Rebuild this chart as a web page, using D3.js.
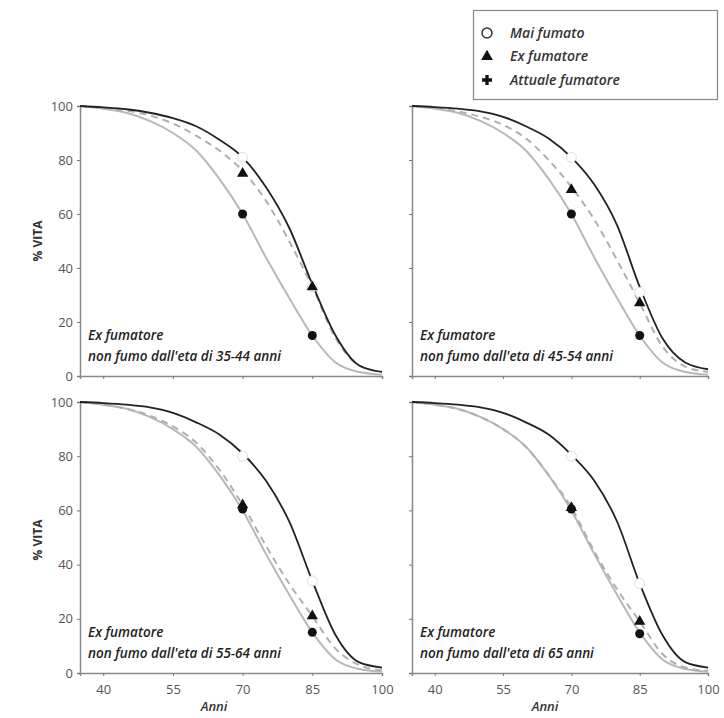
<!DOCTYPE html>
<html><head><meta charset="utf-8">
<script src="https://cdn.jsdelivr.net/npm/d3@7"></script>
<style>body{margin:0;background:#fff}svg{display:block}</style>
</head><body>
<script>
// ---- DATA ----
const ages = [35,40,45,50,55,60,65,70,75,80,85,90,95,100];
const xTicks = [40,55,70,85,100];
const yTicks = [0,20,40,60,80,100];
const markerAges = [70,85];
const panelTitles = ["non fumo dall'eta di 35-44 anni","non fumo dall'eta di 45-54 anni","non fumo dall'eta di 55-64 anni","non fumo dall'eta di 65 anni"];
const seriesNames = ["Mai fumato","Ex  fumatore","Attuale fumatore"];

const never1 = [100,99.5,98.8,97.5,95.5,92.5,87.5,81,70,55,34,15,4,1.5];
const ex1    = [100,99.3,98.3,96.5,93.5,89,83.5,76,65,50,33,14,4,1.5];
const curr1  = [100,99,97.5,94.5,90,83.5,73,60,44,29,15,5,1.5,0.5];
const never2 = [100,99.6,99,98,96,92.5,88,81,71,56,33,14,5,2.5];
const ex2    = [100,99.3,98,96,93,88,80,70,58,43,27,11,3.5,1.5];
const curr2  = [100,99,97.5,94.5,90,83.5,73,60,44,29,15,5,1.5,0.5];
const never3 = [100,99.6,99,98,96,92.5,88,81,71,56,34,14,4,2];
const ex3    = [100,99,97.5,95,91,85,75,62,47,33,21,9,3,1];
const curr3  = [100,99,97.5,94.5,90,83.5,73,60,44,29,15,5,1.5,0.5];
const never4 = [100,99.6,99,98,96,92.5,88,80.5,71,56,33,14,4,2];
const ex4    = [100,99,97.5,94.5,90,83.5,73,61,45,31,19,7,2,0.8];
const curr4  = [100,99,97.5,94.5,90,83.5,73,60,44,29,15,5,1.5,0.5];

// marker values at ages 70 and 85
const neverMk = [[81,33],[81,31],[80,34],[80,33]];
const exMk    = [[75,33],[69,27],[62,21],[61,19]];
const currMk  = [[60,15],[60,15],[60.5,15],[60.5,14.5]];

const neverS=[never1,never2,never3,never4], exS=[ex1,ex2,ex3,ex4], currS=[curr1,curr2,curr3,curr4];

// ---- LAYOUT ----
const W=724,H=718;
const svg=d3.select("body").append("svg").attr("width",W).attr("height",H);
const cols=[[80,382],[412,708]];
const rows=[[106,376],[402,673]];
const font="'Open Sans', 'Noto Sans', sans-serif";

for(let p=0;p<4;p++){
  const c=cols[p%2], r=rows[Math.floor(p/2)];
  const x=d3.scaleLinear().domain([35,100]).range(c);
  const y=d3.scaleLinear().domain([0,100]).range([r[1],r[0]]);
  const g=svg.append("g");
  const ya=d3.axisLeft(y).tickValues(yTicks).tickSize(3).tickPadding(4);
  if(p%2===1) ya.tickFormat("");
  const yg=g.append("g").attr("transform",`translate(${c[0]},0)`).call(ya);
  const xa=d3.axisBottom(x).tickValues(xTicks).tickSize(3).tickPadding(9);
  if(p<2) xa.tickFormat("");
  const xg=g.append("g").attr("transform",`translate(0,${r[1]})`).call(xa);
  [yg,xg].forEach(a=>{
    a.select(".domain").attr("stroke","#888").attr("stroke-width",1.5);
    a.selectAll(".tick line").attr("stroke","#777");
    a.selectAll("text").attr("fill","#555").style("font-family",font).style("font-size","13px");
  });
  const line=d3.line().x((d,i)=>x(ages[i])).y(d=>y(d)).curve(d3.curveMonotoneX);
  g.append("path").attr("d",line(currS[p])).attr("fill","none").attr("stroke","#b8b8b8").attr("stroke-width",2);
  g.append("path").attr("d",line(exS[p])).attr("fill","none").attr("stroke","#b0b0b0").attr("stroke-width",2).attr("stroke-dasharray","7,5");
  g.append("path").attr("d",line(neverS[p])).attr("fill","none").attr("stroke","#222").attr("stroke-width",1.8);
  markerAges.forEach((a,i)=>{
    g.append("circle").attr("cx",x(a)).attr("cy",y(neverMk[p][i])).attr("r",5).attr("fill","#fff").attr("stroke","#ddd").attr("stroke-width",1);
    g.append("path").attr("d",d3.symbol(d3.symbolTriangle,55)()).attr("transform",`translate(${x(a)},${y(exMk[p][i])})`).attr("fill","#111");
    g.append("circle").attr("cx",x(a)).attr("cy",y(currMk[p][i])).attr("r",4.5).attr("fill","#111");
  });
  const t=g.append("text").attr("x",c[0]+8).attr("y",r[1]-36).attr("fill","#222")
    .style("font-family",font).style("font-size","13.5px").style("font-style","italic").style("font-weight","600");
  t.append("tspan").text("Ex fumatore");
  t.append("tspan").attr("x",c[0]+8).attr("dy",21).text(panelTitles[p]);
}
[[42,241],[42,540]].forEach(([tx,ty])=>{
  svg.append("text").attr("transform",`translate(${tx},${ty}) rotate(-90)`).attr("text-anchor","middle")
    .attr("fill","#333").style("font-family",font).style("font-size","12px").style("font-weight","bold").text("% VITA");
});
[[214,711],[545,711]].forEach(([tx,ty])=>{
  svg.append("text").attr("x",tx).attr("y",ty).attr("text-anchor","middle").attr("fill","#333")
    .style("font-family",font).style("font-size","13px").style("font-style","italic").style("font-weight","600").text("Anni");
});
const lg=svg.append("g");
lg.append("rect").attr("x",473.5).attr("y",10.5).attr("width",244).attr("height",89).attr("fill","#fff").attr("stroke","#888").attr("stroke-width",1.2);
const lsyms=[null,d3.symbolTriangle,d3.symbolCross];
seriesNames.forEach((n,i)=>{
  const yy=33+i*23.5;
  if(i===0) lg.append("circle").attr("cx",487).attr("cy",yy).attr("r",5).attr("fill","none").attr("stroke","#333").attr("stroke-width",1.5);
  else lg.append("path").attr("d",d3.symbol(lsyms[i],i===1?60:55)()).attr("transform",`translate(487,${yy})`).attr("fill","#111");
  lg.append("text").attr("x",510).attr("y",yy+4.5).attr("fill","#333").style("font-family",font).style("font-size","14px").style("font-style","italic").style("font-weight","600").text(n);
});
</script>
</body></html>
